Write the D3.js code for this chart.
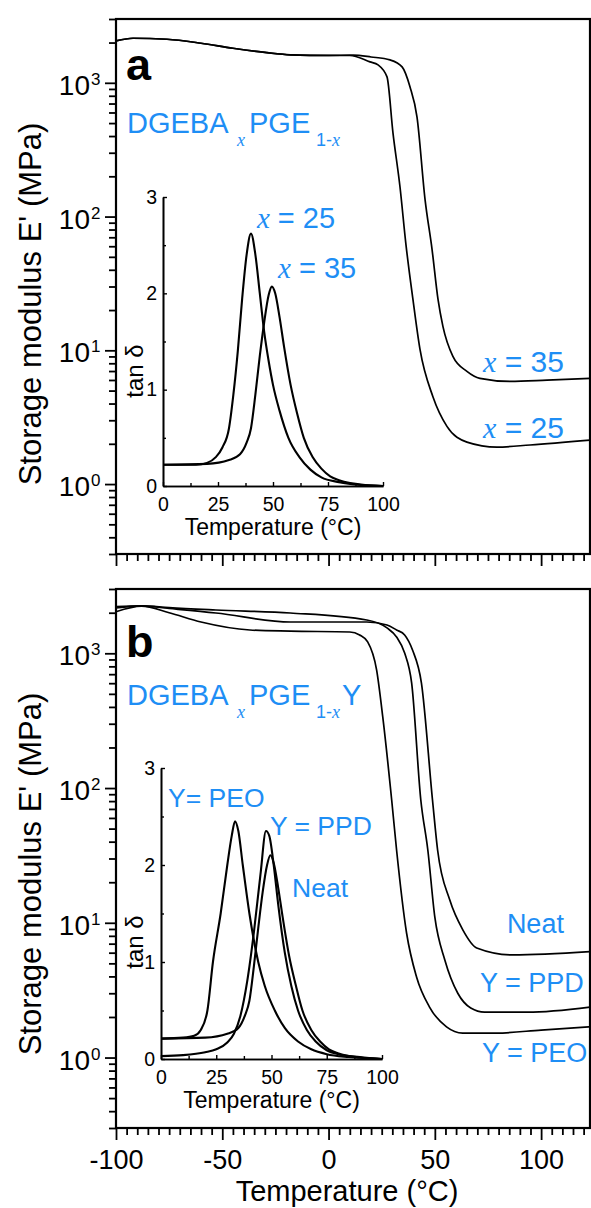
<!DOCTYPE html>
<html>
<head>
<meta charset="utf-8">
<script src="https://cdn.jsdelivr.net/npm/d3@7"></script>
<style>
  html, body { margin: 0; padding: 0; background: #fff; }
  svg { display: block; }
</style>
</head>
<body>
<svg id="chart" width="591" height="1208"></svg>
<script>
// ---------------- DATA ----------------
// Panel a: storage modulus E' (MPa) vs temperature (°C)
const tempA25 = [-100,-92,-76,-60,-45,-29,-18,0,10,19.5,23.3,27.5,30.3,33.6,36.4,39.7,43,49.1,55.7,65.1,79.2,94.8,123];
const modA25  = [2056,2153,2117,1977,1813,1680,1620,1600,1600,1433,1361,1107,423,167,62,24,10.2,4.5,2.7,2.06,1.89,1.96,2.13];
const tempA35 = [-100,-92,-76,-60,-45,-29,-18,0,11.5,20,28.9,34.6,38.3,41.6,45.4,48.7,51.5,53.8,58.5,65.1,71.2,85.4,102.8,123];
const modA35  = [2056,2153,2117,1977,1813,1680,1620,1605,1610,1560,1483,1315,934,557,134,56.7,24,15.1,9.0,6.96,6.17,5.85,5.98,6.17];

// Panel b: storage modulus
const tempBPEO = [-100,-88,-75,-60,-37,-18,10,14.6,18.4,22.6,25.5,29.7,32,36.7,41.4,47.5,55.5,63.1,79.1,100,123];
const modBPEO  = [2036,2240,2000,1707,1489,1460,1439,1368,1214,752,337,81.5,34.7,8.4,3.96,2.37,1.69,1.52,1.52,1.6,1.69];
const tempBPPD = [-100,-88,-75,-53,-18,18,27.5,32,35.8,39.1,43.4,46.7,50,54.7,60.8,66.9,73.4,93.6,123];
const modBPPD  = [2217,2250,2180,2095,1991,1766,1542,1322,1005,601,81.5,34.7,11,5.3,3.0,2.33,2.17,2.17,2.37];
const tempBNeat = [-100,-88,-75,-53,-18,18,27.5,32,35.8,39.5,43.7,48.9,51.3,57,63.1,69.7,86.6,123];
const modBNeat  = [2168,2245,2150,1991,1707,1707,1622,1489,1368,1057,601,81.5,34.7,14.8,8.9,6.5,5.77,6.1];

// Inset a: tan delta
const tempIa25 = [0,15,20,24,27,30,32,34,36,38,40,42,44,46,48,50,53,57,62,67,72,80,90,100];
const tanIa25  = [0.22,0.22,0.24,0.3,0.4,0.6,0.95,1.4,1.95,2.4,2.62,2.4,2.0,1.6,1.3,1.05,0.78,0.5,0.3,0.17,0.09,0.04,0.01,0.0];
const tempIa35 = [0,20,30,35,38,40,42,44,46,48,49.5,51,53,55,58,61,64,68,72,76,80,85,90,100];
const tanIa35  = [0.22,0.23,0.27,0.33,0.45,0.6,0.95,1.35,1.7,1.98,2.07,2.0,1.75,1.45,1.05,0.75,0.5,0.3,0.18,0.1,0.06,0.03,0.015,0];

// Inset b: tan delta
const tempIbPEO = [0,10,15,18,21,23.5,27,30,32,33.5,35,37,40,44,47,51.5,56,62,68,75,85,100];
const tanIbPEO  = [0.21,0.22,0.24,0.3,0.5,1.0,1.5,2.0,2.3,2.45,2.35,2.0,1.5,1.0,0.75,0.5,0.32,0.18,0.1,0.05,0.02,0];
const tempIbPPD = [0,10,20,25,30,33,36,39,42,45,47.5,49,51,53,56,59,62,66,70,75,80,90,100];
const tanIbPPD  = [0.03,0.04,0.07,0.1,0.17,0.26,0.45,0.8,1.3,1.9,2.35,2.3,2.0,1.6,1.1,0.75,0.5,0.3,0.18,0.09,0.05,0.02,0];
const tempIbNeat = [0,20,30,35,38,40,42,44,46,48,49.5,51,53,55,58,61,64,68,72,76,80,85,90,100];
const tanIbNeat  = [0.21,0.22,0.26,0.32,0.45,0.6,0.95,1.35,1.72,2.0,2.1,2.02,1.77,1.47,1.06,0.76,0.5,0.3,0.18,0.1,0.06,0.03,0.015,0];

// Tick values / labels
const mainXTicks = [-100,-50,0,50,100];
const mainXLabels = ["-100","-50","0","50","100"];
const mainYTicks = [1,10,100,1000];
const mainYExp   = ["0","1","2","3"];
const insetXTicks = [0,25,50,75,100];
const insetXLabels = ["0","25","50","75","100"];
const insetYTicks = [0,1,2,3];
const insetYLabels = ["0","1","2","3"];

// Curve labels (data coordinates)
const labelsA = [{pre:"x", txt:" = 35", t:72.7, v:6.87},{pre:"x", txt:" = 25", t:72.7, v:2.2}];
const labelsB = [{txt:"Neat", t:83.9, v:8.4},{txt:"Y = PPD", t:71.2, v:3.07},{txt:"Y = PEO", t:72.2, v:0.93}];
const labelsIa = [{pre:"x", txt:" = 25", t:42.7, v:2.68},{pre:"x", txt:" = 35", t:52.3, v:2.16}];
const labelsIb = [{txt:"Y= PEO", t:3.2, v:2.6},{txt:"Y = PPD", t:49.3, v:2.31},{txt:"Neat", t:59.3, v:1.67}];

// ---------------- DRAW ----------------
const BLUE = "#1e8ef5";
const SANS = "'Liberation Sans', Arial, Helvetica, sans-serif";
const SERIF = "'Liberation Serif', 'Times New Roman', serif";
const svg = d3.select("#chart");
svg.append("rect").attr("width",591).attr("height",1208).attr("fill","#fff");

const xMain = d3.scaleLinear().domain([-100,123]).range([116,590]);
const panels = [
  {top:19, bottom:554, letter:"a", letterY:80, withY:false,
   series:[[tempA25,modA25],[tempA35,modA35]], labels:labelsA, fs:30,
   inset:{x0:163,x1:383,y0:486,y1:197, series:[[tempIa25,tanIa25],[tempIa35,tanIa35]], labels:labelsIa, fs:29}},
  {top:589, bottom:1128, letter:"b", letterY:657, withY:true,
   series:[[tempBPEO,modBPEO],[tempBPPD,modBPPD],[tempBNeat,modBNeat]], labels:labelsB, fs:27,
   inset:{x0:161,x1:382,y0:1059,y1:768, series:[[tempIbPEO,tanIbPEO],[tempIbPPD,tanIbPPD],[tempIbNeat,tanIbNeat]], labels:labelsIb, fs:26.5}}
];

function minorLogTicks(lo, hi){
  const out=[];
  for(let e=-1;e<=4;e++){ for(let m=2;m<=9;m++){ const v=m*Math.pow(10,e); if(v>=lo && v<=hi) out.push(v);} }
  return out;
}
const minorX = d3.range(-100,121,5).filter(v=>mainXTicks.indexOf(v)<0);

panels.forEach((p,pi)=>{
  const y = d3.scaleLog().domain([0.3,3000]).range([p.bottom,p.top]);
  const g = svg.append("g");

  // left axis
  const gl = g.append("g").attr("transform",`translate(116,0)`);
  gl.call(d3.axisLeft(y).tickValues(mainYTicks).tickSize(11).tickSizeOuter(0).tickFormat(""));
  gl.append("g").call(d3.axisLeft(y).tickValues(minorLogTicks(0.3,3000)).tickSize(7).tickSizeOuter(0).tickFormat(""));
  gl.selectAll("path.domain").remove();
  gl.selectAll("line").attr("stroke","#000").attr("stroke-width",1.8);
  mainYTicks.forEach((v,i)=>{
    g.append("text").attr("x",90).attr("y",y(v)+12).attr("text-anchor","end")
      .attr("font-family",SANS).attr("font-size",28).text("10");
    g.append("text").attr("x",91).attr("y",y(v)+2).attr("text-anchor","start")
      .attr("font-family",SANS).attr("font-size",17).text(mainYExp[i]);
  });

  // bottom axis
  const gb = g.append("g").attr("transform",`translate(0,${p.bottom})`);
  const ax = d3.axisBottom(xMain).tickValues(mainXTicks).tickSize(12).tickSizeOuter(0).tickPadding(10)
    .tickFormat((d,i)=>p.withY ? mainXLabels[i] : "");
  gb.call(ax);
  gb.append("g").call(d3.axisBottom(xMain).tickValues(minorX).tickSize(7).tickSizeOuter(0).tickFormat(""));
  gb.selectAll("path.domain").remove();
  gb.selectAll("line").attr("stroke","#000").attr("stroke-width",1.8);
  gb.selectAll("text").attr("font-family",SANS).attr("font-size",27).attr("fill","#000");

  // frame
  g.append("rect").attr("x",116).attr("y",p.top).attr("width",590-116).attr("height",p.bottom-p.top)
    .attr("fill","none").attr("stroke","#000").attr("stroke-width",2.2);

  // y title
  g.append("text").attr("transform",`translate(41,${p.top+285}) rotate(-90)`)
    .attr("text-anchor","middle").attr("font-family",SANS).attr("font-size",31).text("Storage modulus E' (MPa)");

  // curves
  const line = d3.line().x(d=>xMain(d[0])).y(d=>y(d[1])).curve(d3.curveMonotoneX);
  p.series.forEach(s=>{
    const pts = s[0].map((t,i)=>[t,s[1][i]]);
    g.append("path").attr("d",line(pts)).attr("fill","none").attr("stroke","#000").attr("stroke-width",1.7);
  });

  // panel letter
  g.append("text").attr("x",126).attr("y",p.letterY).attr("font-family",SANS).attr("font-weight","bold")
    .attr("font-size",45).text(p.letter);

  // DGEBA label
  const baseY = p.top + (pi===0?114:116);
  const t = g.append("text").attr("font-family",SANS).attr("fill",BLUE).attr("font-size",29);
  t.append("tspan").attr("x",127).attr("y",baseY).text("DGEBA");
  t.append("tspan").attr("x",237).attr("y",baseY+13).attr("font-family",SERIF).attr("font-style","italic").attr("font-size",18).text("x");
  t.append("tspan").attr("x",249).attr("y",baseY).text("PGE");
  t.append("tspan").attr("x",316).attr("y",baseY+13).attr("font-size",18).text("1-");
  t.append("tspan").attr("y",baseY+13).attr("font-family",SERIF).attr("font-style","italic").attr("font-size",18).text("x");
  if(p.withY) t.append("tspan").attr("x",342).attr("y",baseY).text("Y");

  // curve labels
  p.labels.forEach(l=>{
    const tt = g.append("text").attr("x",xMain(l.t)).attr("y",y(l.v)).attr("font-family",SANS)
      .attr("fill",BLUE).attr("font-size",p.fs);
    if(l.pre) tt.append("tspan").attr("font-family",SERIF).attr("font-style","italic").text(l.pre);
    tt.append("tspan").text(l.txt);
  });

  // inset
  const ins = p.inset;
  const xi = d3.scaleLinear().domain([0,100]).range([ins.x0,ins.x1]);
  const yi = d3.scaleLinear().domain([0,3]).range([ins.y0,ins.y1]);
  const gi = g.append("g");
  const gix = gi.append("g").attr("transform",`translate(0,${ins.y0})`);
  gix.call(d3.axisBottom(xi).tickValues(insetXTicks).tickSize(-4).tickSizeOuter(0).tickPadding(11)
    .tickFormat((d,i)=>insetXLabels[i]));
  gix.append("g").call(d3.axisBottom(xi).tickValues([12.5,37.5,62.5,87.5]).tickSize(-3).tickSizeOuter(0).tickFormat(""));
  const giy = gi.append("g").attr("transform",`translate(${ins.x0},0)`);
  giy.call(d3.axisLeft(yi).tickValues(insetYTicks).tickSize(-4).tickSizeOuter(0).tickPadding(6)
    .tickFormat((d,i)=>insetYLabels[i]));
  giy.append("g").call(d3.axisLeft(yi).tickValues([0.5,1.5,2.5]).tickSize(-3).tickSizeOuter(0).tickFormat(""));
  gi.selectAll("path.domain").attr("stroke","#000").attr("stroke-width",1.6);
  gi.selectAll("line").attr("stroke","#000").attr("stroke-width",1.4);
  gi.selectAll("text").attr("font-family",SANS).attr("font-size",19.5).attr("fill","#000");
  gi.append("text").attr("x",(ins.x0+ins.x1)/2).attr("y",ins.y0+49).attr("text-anchor","middle")
    .attr("font-family",SANS).attr("font-size",23).text("Temperature (°C)");
  gi.append("text").attr("transform",`translate(143,${ins.y1+174}) rotate(-90)`).attr("text-anchor","middle")
    .attr("font-family",SANS).attr("font-size",24).text("tan δ");
  const li = d3.line().x(d=>xi(d[0])).y(d=>yi(d[1])).curve(d3.curveMonotoneX);
  ins.series.forEach(s=>{
    const pts = s[0].map((tv,i)=>[tv,s[1][i]]);
    gi.append("path").attr("d",li(pts)).attr("fill","none").attr("stroke","#000").attr("stroke-width",2.1);
  });
  ins.labels.forEach(l=>{
    const tt = gi.append("text").attr("x",xi(l.t)).attr("y",yi(l.v)).attr("font-family",SANS)
      .attr("fill",BLUE).attr("font-size",ins.fs);
    if(l.pre) tt.append("tspan").attr("font-family",SERIF).attr("font-style","italic").text(l.pre);
    tt.append("tspan").text(l.txt);
  });
});

// main x title
svg.append("text").attr("x",347).attr("y",1201).attr("text-anchor","middle")
  .attr("font-family",SANS).attr("font-size",29).text("Temperature (°C)");
</script>
</body>
</html>
